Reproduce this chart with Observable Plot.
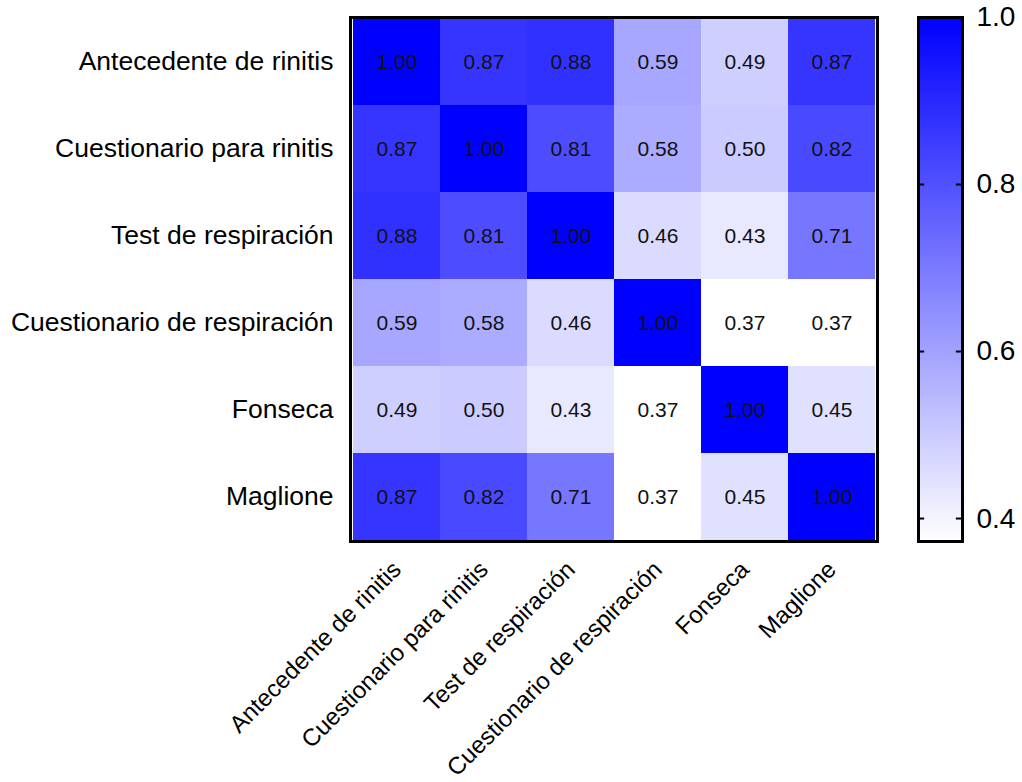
<!DOCTYPE html>
<html>
<head>
<meta charset="utf-8">
<script src="https://cdn.jsdelivr.net/npm/d3@7"></script>
<script src="https://cdn.jsdelivr.net/npm/@observablehq/plot@0.6"></script>
<style>
  html, body { margin: 0; padding: 0; background: #fff; }
  #wrap { position: relative; width: 1022px; height: 782px; font-family: "Liberation Sans", Arial, sans-serif; }
  #main { position: absolute; left: 0; top: 0; }
  #legend { position: absolute; left: 900px; top: 0; }
</style>
</head>
<body>
<div id="wrap"><div id="main"></div><div id="legend"></div></div>
<script>
const categories = [
  "Antecedente de rinitis",
  "Cuestionario para rinitis",
  "Test de respiración",
  "Cuestionario de respiración",
  "Fonseca",
  "Maglione"
];
const rowAntecedente = [1.00, 0.87, 0.88, 0.59, 0.49, 0.87];
const rowCuestRinitis = [0.87, 1.00, 0.81, 0.58, 0.50, 0.82];
const rowTestResp = [0.88, 0.81, 1.00, 0.46, 0.43, 0.71];
const rowCuestResp = [0.59, 0.58, 0.46, 1.00, 0.37, 0.37];
const rowFonseca = [0.49, 0.50, 0.43, 0.37, 1.00, 0.45];
const rowMaglione = [0.87, 0.82, 0.71, 0.37, 0.45, 1.00];
const colorTicks = [0.4, 0.6, 0.8, 1.0];
const colorDomain = [0.3725, 1.0];

const rows = [rowAntecedente, rowCuestRinitis, rowTestResp, rowCuestResp, rowFonseca, rowMaglione];
const table = [];
rows.forEach((r, i) => r.forEach((v, j) => table.push({row: categories[i], col: categories[j], value: v})));

const colorOpts = {type: "linear", domain: colorDomain, range: ["#ffffff", "#0000ff"], interpolate: "rgb", clamp: true};
const FONT = "Liberation Sans, Arial, sans-serif";

const main = Plot.plot({
  width: 1022, height: 782,
  marginLeft: 350, marginRight: 145, marginTop: 17, marginBottom: 241,
  style: {fontFamily: FONT, background: "transparent"},
  x: {type: "band", domain: categories, padding: 0, label: null},
  y: {type: "band", domain: categories, padding: 0, label: null},
  color: colorOpts,
  marks: [
    Plot.cell(table, {x: "col", y: "row", fill: "value"}),
    Plot.text(table, {x: "col", y: "row", text: d => d3.format(".2f")(d.value), fill: "#111", fontSize: 21}),
    Plot.frame({stroke: "black", strokeWidth: 3}),
    Plot.axisY({tickSize: 0, tickPadding: 17, fontSize: 26.5, fill: "#000", label: null}),
    Plot.axisX({tickSize: 0, tickPadding: 24, tickRotate: -45, fontSize: 24, fill: "#000", label: null})
  ]
});
document.getElementById("main").appendChild(main);

const legend = Plot.plot({
  width: 122, height: 782,
  marginLeft: 18, marginRight: 60, marginTop: 17, marginBottom: 241,
  style: {fontFamily: FONT, background: "transparent"},
  x: {type: "linear", domain: [0, 1], axis: null},
  y: {type: "linear", domain: colorDomain, axis: null},
  color: colorOpts,
  marks: [
    Plot.raster({x1: 0, x2: 1, y1: colorDomain[0], y2: colorDomain[1], width: 2, height: 300, fill: (x, y) => y, imageRendering: "auto"}),
    Plot.ruleY(colorTicks, {x1: 0, x2: 0.14, stroke: "black", strokeWidth: 2}),
    Plot.ruleY(colorTicks, {x1: 0.86, x2: 1, stroke: "black", strokeWidth: 2}),
    Plot.frame({stroke: "black", strokeWidth: 3}),
    Plot.axisY(colorTicks, {anchor: "right", tickSize: 0, tickPadding: 14, fontSize: 28, fill: "#000", tickFormat: d3.format(".1f"), label: null})
  ]
});
document.getElementById("legend").appendChild(legend);
</script>
</body>
</html>
